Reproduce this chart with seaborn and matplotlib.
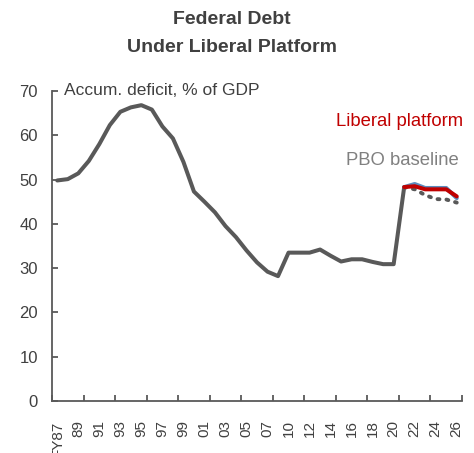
import matplotlib
matplotlib.use("Agg")
import matplotlib.pyplot as plt
import seaborn as sns
import pandas as pd
import numpy as np

# ---- data ----
years = ["FY87", "88", "89", "90", "91", "92", "93", "94", "95", "96", "97", "98", "99",
         "00", "01", "02", "03", "04", "05", "06", "07", "09", "10", "11", "12", "13",
         "14", "15", "16", "17", "18", "19", "20", "21", "22", "23", "24", "25", "26"]
actual = [49.8, 50.1, 51.4, 54.2, 58.0, 62.3, 65.3, 66.3, 66.8, 65.8, 62.0, 59.3, 54.0,
          47.3, 45.0, 42.6, 39.5, 37.0, 34.0, 31.3, 29.2, 28.2, 33.5, 33.5, 33.5, 34.2,
          32.8, 31.5, 32.0, 32.0, 31.4, 30.9, 30.9, 48.3]
proj_years = ["21", "22", "23", "24", "25", "26"]
liberal = [48.3, 48.5, 47.8, 47.8, 47.8, 46.2]
blue_series = [48.3, 49.0, 48.1, 48.1, 48.1, 45.8]
pbo = [48.3, 47.8, 46.5, 45.6, 45.5, 44.8]

pos = {y: i for i, y in enumerate(years)}
df_act = pd.DataFrame({"x": [pos[y] for y in years[:len(actual)]], "v": actual})
df_lib = pd.DataFrame({"x": [pos[y] for y in proj_years], "v": liberal})
df_blue = pd.DataFrame({"x": [pos[y] for y in proj_years], "v": blue_series})
df_pbo = pd.DataFrame({"x": [pos[y] for y in proj_years], "v": pbo})

sns.set_style("white")
plt.rcParams['font.family'] = ['Liberation Sans', 'DejaVu Sans']

fig = plt.figure(figsize=(4.74, 4.53), dpi=100)
ax = fig.add_axes([52/474, 1-401/453, 410/474, 310/453])

sns.lineplot(data=df_act, x="x", y="v", ax=ax, color="#595959", linewidth=2.9)
sns.lineplot(data=df_pbo, x="x", y="v", ax=ax, color="#595959", linewidth=2.8,
             linestyle=(0, (0.5, 1.8)), dash_capstyle="round")
sns.lineplot(data=df_blue, x="x", y="v", ax=ax, color="#5B8DBE", linewidth=2.9)
sns.lineplot(data=df_lib, x="x", y="v", ax=ax, color="#C00000", linewidth=2.9)

ax.set_xlim(-0.5, len(years) - 0.5)
ax.set_ylim(0, 70)
ax.set_xlabel("")
ax.set_ylabel("")

ax.set_xticks(range(0, len(years), 2))
ax.set_xticklabels([years[i] for i in range(0, len(years), 2)], rotation=90,
                   fontsize=11, color="#404040")
ax.set_xticks(np.arange(-0.5, len(years), 3), minor=True)
ax.tick_params(axis="x", which="major", length=0, pad=14)
ax.tick_params(axis="x", which="minor", direction="in", length=4, width=1.3,
               color="#595959", bottom=True)
ax.set_yticks(range(0, 71, 10))
ax.tick_params(axis="y", direction="in", length=4, width=1.3, color="#595959",
               labelsize=12, labelcolor="#404040", pad=10, left=True)

for s in ["top", "right"]:
    ax.spines[s].set_visible(False)
for s in ["left", "bottom"]:
    ax.spines[s].set_color("#595959")
    ax.spines[s].set_linewidth(1.3)

ax.text(0.6, 70.2, "Accum. deficit, % of GDP", fontsize=12.5, color="#404040",
        ha="left", va="center", clip_on=False)
ax.text(38.6, 63.0, "Liberal platform", fontsize=13.3, color="#C00000",
        ha="right", va="center", clip_on=False)
ax.text(38.2, 54.4, "PBO baseline", fontsize=13.3, color="#808080",
        ha="right", va="center", clip_on=False)

fig.text(0.49, 1-20/453, "Federal Debt", fontsize=14, fontweight="bold",
         color="#404040", ha="center", va="center")
fig.text(0.49, 1-47/453, "Under Liberal Platform", fontsize=14, fontweight="bold",
         color="#404040", ha="center", va="center")

fig.savefig("out.png", dpi=100)
